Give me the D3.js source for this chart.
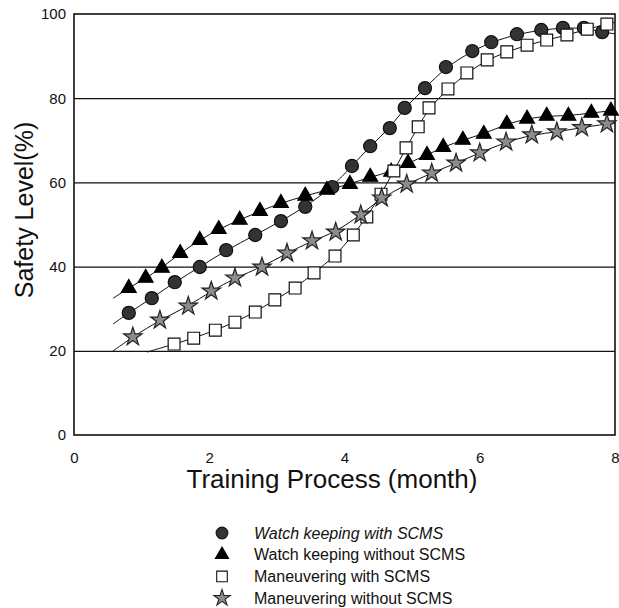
<!DOCTYPE html>
<html>
<head>
<meta charset="utf-8">
<script src="https://cdn.jsdelivr.net/npm/d3@7"></script>
<style>
  body { margin: 0; background: #fff; }
  svg { font-family: "Liberation Sans", Arial, sans-serif; }
  .tick text { font-size: 15px; fill: #111; }
</style>
</head>
<body>
<div id="chart"></div>
<script>
"use strict";

// months on the x axis, safety level (%) on the y axis
var xTicks = [0, 2, 4, 6, 8];
var yTicks = [0, 20, 40, 60, 80, 100];
var gridLevels = [20, 40, 60, 80];

var seriesNames = [
  "Watch keeping with SCMS",
  "Watch keeping without SCMS",
  "Maneuvering with SCMS",
  "Maneuvering without SCMS"
];

var watchWithMonth = [0.81, 1.15, 1.49, 1.86, 2.25, 2.68, 3.06, 3.42, 3.82, 4.11, 4.38,
  4.67, 4.89, 5.19, 5.50, 5.89, 6.17, 6.55, 6.91, 7.23, 7.54, 7.81];
var watchWithLevel = [29.0, 32.5, 36.3, 39.9, 43.9, 47.5, 50.8, 54.2, 58.9, 63.9, 68.6,
  72.9, 77.7, 82.4, 87.4, 91.2, 93.3, 95.2, 96.2, 96.7, 96.7, 95.7];

var watchWithoutMonth = [0.81, 1.06, 1.30, 1.57, 1.86, 2.14, 2.45, 2.75, 3.06, 3.42, 3.74,
  4.08, 4.38, 4.69, 4.94, 5.22, 5.46, 5.75, 6.06, 6.40, 6.70, 6.99, 7.31, 7.65, 7.94];
var watchWithoutLevel = [34.9, 37.3, 39.7, 43.2, 46.3, 48.9, 51.1, 53.2, 55.1, 56.8, 58.2,
  59.6, 61.3, 62.5, 64.6, 66.5, 68.4, 70.1, 71.5, 73.9, 75.1, 75.8, 75.8, 76.5, 77.0];

var manWithMonth = [1.48, 1.77, 2.09, 2.38, 2.68, 2.97, 3.27, 3.55, 3.86, 4.13, 4.33, 4.54,
  4.73, 4.91, 5.09, 5.25, 5.53, 5.81, 6.11, 6.40, 6.70, 6.99, 7.29, 7.59, 7.88];
var manWithLevel = [21.6, 23.0, 24.9, 26.8, 29.2, 32.1, 34.9, 38.5, 42.5, 47.5, 51.8, 57.2,
  62.7, 68.2, 73.2, 77.7, 82.2, 86.0, 89.1, 91.0, 92.6, 93.8, 95.0, 96.4, 97.6];

var manWithoutMonth = [0.87, 1.27, 1.69, 2.03, 2.38, 2.78, 3.15, 3.52, 3.87, 4.24, 4.55,
  4.92, 5.29, 5.65, 6.00, 6.39, 6.77, 7.14, 7.51, 7.88];
var manWithoutLevel = [23.3, 27.3, 30.6, 34.2, 37.3, 39.9, 43.2, 46.1, 48.2, 52.3, 56.3,
  59.6, 62.2, 64.6, 67.0, 69.6, 71.3, 72.0, 73.0, 73.9];

// where each fitted curve begins and ends
var fitStartMonth = [0.58, 0.58, 1.08, 0.58];
var fitStartLevel = [26.4, 32.5, 19.7, 20.0];
var fitEndMonth = [8.0, 8.0, 8.0, 8.0];
var fitEndLevel = [95.3, 77.2, 98.0, 74.0];

var width = 619, height = 608;
var plot = { left: 74, right: 615, top: 14, bottom: 435 };

var x = d3.scaleLinear().domain([0, 8]).range([plot.left, plot.right]);
var y = d3.scaleLinear().domain([0, 100]).range([plot.bottom, plot.top]);

var svg = d3.select("#chart").append("svg")
  .attr("width", width)
  .attr("height", height);

// horizontal grid lines
svg.append("g")
  .attr("transform", "translate(" + plot.left + ",0)")
  .call(d3.axisLeft(y).tickValues(gridLevels).tickSize(-(plot.right - plot.left)).tickFormat(""))
  .call(function(g) { g.select(".domain").remove(); })
  .selectAll("line")
  .attr("stroke", "#111")
  .attr("stroke-width", 1.2);

// frame
svg.append("rect")
  .attr("x", plot.left)
  .attr("y", plot.top)
  .attr("width", plot.right - plot.left)
  .attr("height", plot.bottom - plot.top)
  .attr("fill", "none")
  .attr("stroke", "#111")
  .attr("stroke-width", 1.6);

// tick labels
svg.append("g")
  .attr("transform", "translate(" + plot.left + ",0)")
  .call(d3.axisLeft(y).tickValues(yTicks).tickSize(0).tickPadding(8))
  .call(function(g) { g.select(".domain").remove(); });

svg.append("g")
  .attr("transform", "translate(0," + plot.bottom + ")")
  .call(d3.axisBottom(x).tickValues(xTicks).tickSize(0).tickPadding(17))
  .call(function(g) { g.select(".domain").remove(); });

// axis titles
svg.append("text")
  .attr("transform", "translate(33,210) rotate(-90)")
  .attr("text-anchor", "middle")
  .style("font-size", "25px")
  .attr("fill", "#111")
  .text("Safety Level(%)");

svg.append("text")
  .attr("x", 332)
  .attr("y", 488)
  .attr("text-anchor", "middle")
  .style("font-size", "26px")
  .attr("fill", "#111")
  .text("Training Process (month)");

function zip(ms, vs) {
  return ms.map(function(m, i) { return { m: m, v: vs[i] }; });
}

var series = [
  zip(watchWithMonth, watchWithLevel),
  zip(watchWithoutMonth, watchWithoutLevel),
  zip(manWithMonth, manWithLevel),
  zip(manWithoutMonth, manWithoutLevel)
];

var symbols = [
  { type: d3.symbolCircle, size: 135, fill: "#333", stroke: "#111" },
  { type: d3.symbolTriangle, size: 95, fill: "#000", stroke: "#000" },
  { type: d3.symbolSquare, size: 140, fill: "#fff", stroke: "#111" },
  { type: d3.symbolStar, size: 105, fill: "#8c8c8c", stroke: "#222" }
];

var line = d3.line()
  .x(function(d) { return x(d.m); })
  .y(function(d) { return y(d.v); })
  .curve(d3.curveBasis);

series.forEach(function(pts, i) {
  var path = [{ m: fitStartMonth[i], v: fitStartLevel[i] }]
    .concat(pts)
    .concat([{ m: fitEndMonth[i], v: fitEndLevel[i] }]);
  svg.append("path")
    .datum(path)
    .attr("d", line)
    .attr("fill", "none")
    .attr("stroke", "#111")
    .attr("stroke-width", 1);
});

series.forEach(function(pts, i) {
  var s = symbols[i];
  svg.append("g").selectAll("path")
    .data(pts)
    .enter().append("path")
    .attr("transform", function(d) { return "translate(" + x(d.m) + "," + y(d.v) + ")"; })
    .attr("d", d3.symbol().type(s.type).size(s.size))
    .attr("fill", s.fill)
    .attr("stroke", s.stroke)
    .attr("stroke-width", 1.2);
});

// legend
var legend = svg.selectAll(".legend")
  .data(seriesNames)
  .enter().append("g")
  .attr("class", "legend")
  .attr("transform", function(d, i) { return "translate(222," + (533 + i * 21.7) + ")"; });

legend.append("path")
  .attr("d", function(d, i) {
    var s = symbols[i];
    return d3.symbol().type(s.type).size(s.size * 0.8)();
  })
  .attr("fill", function(d, i) { return symbols[i].fill; })
  .attr("stroke", function(d, i) { return symbols[i].stroke; })
  .attr("stroke-width", 1.1);

legend.append("text")
  .attr("x", 32)
  .attr("y", 5.5)
  .style("font-size", "16px")
  .style("font-style", function(d, i) { return i === 0 ? "italic" : "normal"; })
  .attr("fill", "#111")
  .text(function(d) { return d; });
</script>
</body>
</html>
